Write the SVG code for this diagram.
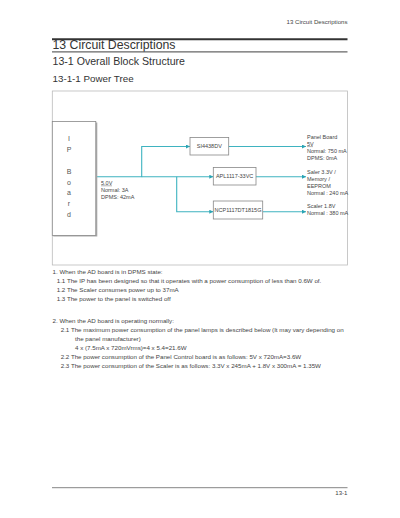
<svg xmlns="http://www.w3.org/2000/svg" width="400" height="518" viewBox="0 0 400 518">
<defs>
<style>
text{font-family:"Liberation Sans",Arial,sans-serif;fill:#333}
.hd{font-size:6.1px;fill:#444}
.h1{font-size:12.3px;fill:#333}
.h2{font-size:10.6px;fill:#333}
.h3{font-size:9.8px;fill:#333}
.b{font-size:6.2px;fill:#444}
.s{font-size:5.5px;fill:#444}
.ip{font-size:7px;fill:#555;text-anchor:middle}
.bx{fill:#fff;stroke:#888;stroke-width:0.8}
.ln{fill:none;stroke:#3fb3c0;stroke-width:1.1}
.ul{stroke:#444;stroke-width:0.4}
</style>
<marker id="ah" viewBox="0 0 6 6" refX="6" refY="3" markerWidth="4" markerHeight="4" orient="auto" markerUnits="userSpaceOnUse">
<path d="M0,0 L6,3 L0,6 z" fill="#2aa3b3"/>
</marker>
</defs>
<rect width="400" height="518" fill="#fff"/>
<text class="hd" x="347.5" y="24" text-anchor="end">13 Circuit Descriptions</text>
<line x1="52" y1="39.3" x2="347.5" y2="39.3" stroke="#333" stroke-width="2"/>
<text class="h1" x="52.5" y="49">13 Circuit Descriptions</text>
<line x1="52" y1="51.8" x2="347.5" y2="51.8" stroke="#666" stroke-width="1.3"/>
<text class="h2" x="52.5" y="65">13-1 Overall Block Structure</text>
<text class="h3" x="52.5" y="81.5">13-1-1 Power Tree</text>
<rect x="52.3" y="91" width="295.2" height="174" fill="none" stroke="#bbb" stroke-width="0.8"/>
<g id="connectors">
<polyline class="ln" points="96,176.7 141.7,176.7 141.7,146.5 190,146.5" marker-end="url(#ah)"/>
<polyline class="ln" points="141.7,176.7 213.3,176.7" marker-end="url(#ah)"/>
<polyline class="ln" points="176.7,176.7 176.7,211.7 213.3,211.7" marker-end="url(#ah)"/>
<line class="ln" x1="228.7" y1="146.5" x2="306" y2="146.5" marker-end="url(#ah)"/>
<line class="ln" x1="256" y1="176.7" x2="306" y2="176.7" marker-end="url(#ah)"/>
<line class="ln" x1="262.7" y1="211.7" x2="306" y2="211.7" marker-end="url(#ah)"/>
</g>
<g id="ipboard">
<rect x="53.3" y="122.5" width="44" height="114" fill="#aaa"/>
<rect class="bx" x="52.3" y="121.5" width="43.5" height="114"/>
<text class="ip" x="69" y="140.5">I</text>
<text class="ip" x="69" y="151.5">P</text>
<text class="ip" x="69" y="173.5">B</text>
<text class="ip" x="69" y="184.5">o</text>
<text class="ip" x="69" y="195">a</text>
<text class="ip" x="69" y="205.5">r</text>
<text class="ip" x="69" y="216.5">d</text>
</g>
<g id="lbl-main">
<text class="s" x="101" y="185">5.0V</text>
<line class="ul" x1="101" y1="185.8" x2="112" y2="185.8"/>
<text class="s" x="101" y="192">Normal: 3A</text>
<text class="s" x="101" y="199">DPMS: 42mA</text>
</g>
<g id="si4438">
<rect class="bx" x="190" y="137.5" width="38.7" height="17.5"/>
<text class="s" x="209.3" y="148.2" text-anchor="middle">SI4438DV</text>
</g>
<g id="apl1117">
<rect class="bx" x="213.3" y="167.5" width="42.7" height="17.5"/>
<text class="s" x="234.6" y="178.2" text-anchor="middle">APL1117-33VC</text>
</g>
<g id="ncp1117">
<rect class="bx" x="213.3" y="201" width="49.4" height="18"/>
<text class="s" x="238" y="212" text-anchor="middle">NCP1117DT1815G</text>
</g>
<g id="lbl-panel">
<text class="s" x="307" y="138.7">Panel Board</text>
<text class="s" x="307" y="145.8">5V</text>
<line class="ul" x1="307" y1="146.6" x2="313" y2="146.6"/>
<text class="s" x="307" y="152.7">Normal: 750 mA</text>
<text class="s" x="307" y="160">DPMS: 0mA</text>
</g>
<g id="lbl-33">
<text class="s" x="307" y="173.7">Saler 3.3V /</text>
<text class="s" x="307" y="180.8">Memory /</text>
<text class="s" x="307" y="187.8">EEPROM</text>
<text class="s" x="307" y="195">Normal : 240 mA</text>
</g>
<g id="lbl-18">
<text class="s" x="307" y="208">Scaler 1.8V</text>
<text class="s" x="307" y="215">Normal : 380 mA</text>
</g>
<text class="b" x="52.5" y="274">1. When the AD board is in DPMS state:</text>
<text class="b" x="56.7" y="283">1.1 The IP has been designed so that it operates with a power consumption of less than 0.6W of.</text>
<text class="b" x="56.7" y="292">1.2 The Scaler consumes power up to 37mA</text>
<text class="b" x="56.7" y="301">1.3 The power to the panel is switched off</text>
<text class="b" x="52.5" y="322.5">2. When the AD board is operating normally:</text>
<text class="b" x="60.7" y="331.5">2.1 The maximum power consumption of the panel lamps is described below (It may vary depending on</text>
<text class="b" x="75" y="340.5">the panel manufacturer)</text>
<text class="b" x="75" y="349.5">4 x (7.5mA x 720mVrms)=4 x 5.4=21.6W</text>
<text class="b" x="60.7" y="358.5">2.2 The power consumption of the Panel Control board is as follows: 5V x 720mA=3.6W</text>
<text class="b" x="60.7" y="367.5">2.3 The power consumption of the Scaler is as follows: 3.3V x 245mA + 1.8V x 300mA = 1.35W</text>
<line x1="52" y1="487.7" x2="347.5" y2="487.7" stroke="#666" stroke-width="0.8"/>
<text class="hd" x="347.5" y="495" text-anchor="end">13-1</text>
</svg>
